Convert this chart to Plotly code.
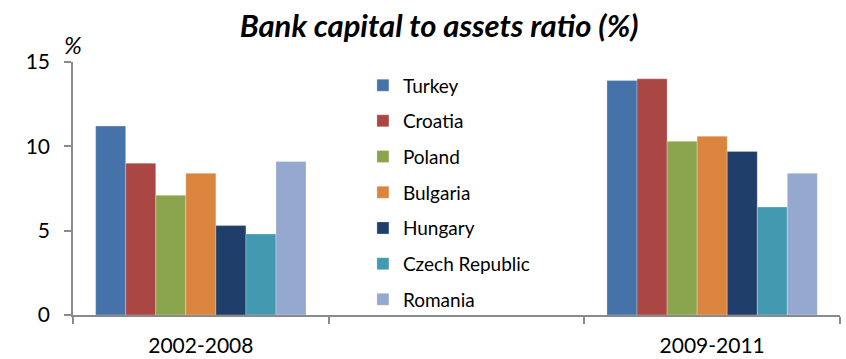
import plotly.graph_objects as go

# Periods on the x axis; the blank middle slot leaves room for the legend
periods = ["2002-2008", " ", "2009-2011"]

countries = ["Turkey", "Croatia", "Poland", "Bulgaria", "Hungary", "Czech Republic", "Romania"]
ratio_2002_2008 = [11.2, 9.0, 7.1, 8.4, 5.3, 4.8, 9.1]
ratio_2009_2011 = [13.9, 14.0, 10.3, 10.6, 9.7, 6.4, 8.4]

colors = ["#4572A8", "#AA4644", "#8AA54E", "#DB843E", "#1F3F6A", "#4399B0", "#95A9D0"]

FONT = "Lato"

fig = go.Figure()
for i, name in enumerate(countries):
    fig.add_trace(go.Bar(
        name=name,
        x=periods,
        y=[ratio_2002_2008[i], None, ratio_2009_2011[i]],
        marker=dict(color=colors[i], line=dict(width=0.6, color="rgba(255,255,255,0.45)")),
        legendgroup=name,
    ))

fig.update_layout(
    width=846, height=359,
    margin=dict(l=73, r=6, t=62, b=44),
    paper_bgcolor="white", plot_bgcolor="white",
    barmode="group", bargap=0.177, bargroupgap=0,
    font=dict(family=FONT, color="#000000"),
    title=dict(
        text="<b><i>Bank capital to assets ratio (%)</i></b>",
        x=0.519, xanchor="center", y=0.927, yanchor="middle",
        font=dict(family=FONT, size=31, color="#000000"),
    ),
    legend=dict(
        x=0.378, xanchor="left", y=0.983, yanchor="top",
        bgcolor="rgba(0,0,0,0)", font=dict(family=FONT, size=19, color="#000000"),
        traceorder="grouped", tracegroupgap=8, itemclick=False,
        maxheight=400,
    ),
    showlegend=True,
)

fig.update_xaxes(
    type="category", categoryorder="array", categoryarray=periods,
    showline=True, linecolor="#8A8A8A", linewidth=1.5,
    ticks="outside", tickson="boundaries", ticklen=7, tickcolor="#8A8A8A", tickwidth=1.5,
    tickfont=dict(family=FONT, size=21, color="#000000"),
    ticklabelstandoff=11, automargin=False,
    showgrid=False, zeroline=False, fixedrange=True,
)

fig.update_yaxes(
    range=[0, 15], tickvals=[0, 5, 10, 15],
    showline=True, linecolor="#8A8A8A", linewidth=1.5,
    ticks="outside", ticklen=7, tickcolor="#8A8A8A", tickwidth=1.5,
    tickfont=dict(family=FONT, size=21, color="#000000"),
    ticklabelstandoff=10, automargin=False,
    showgrid=False, zeroline=False, fixedrange=True,
)

# Unit label above the y axis
fig.add_annotation(
    text="<i>%</i>", xref="paper", yref="paper", x=0.0, y=1.07,
    xanchor="center", yanchor="middle", showarrow=False,
    font=dict(family=FONT, size=24, color="#000000"),
)

fig.write_html("out.html")
